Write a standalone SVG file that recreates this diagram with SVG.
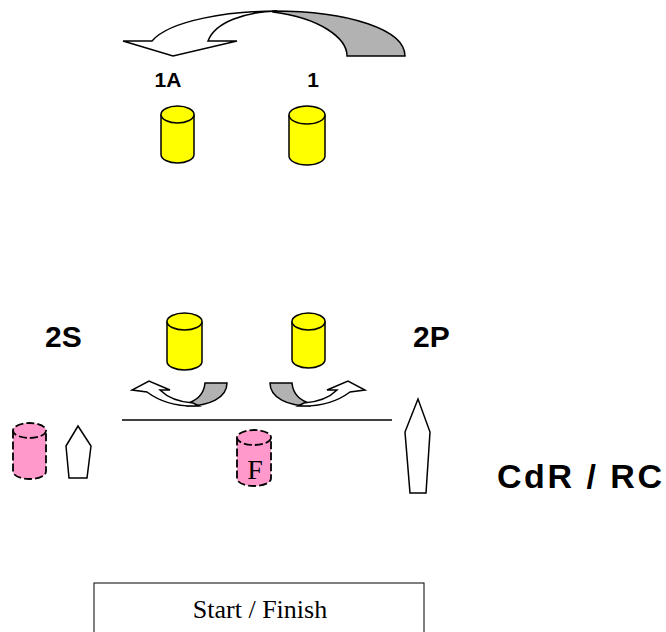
<svg xmlns="http://www.w3.org/2000/svg" width="666" height="632" viewBox="0 0 666 632">
<style>
.lbl{font-family:"Liberation Sans",Arial,sans-serif;font-weight:bold;fill:#000}
.ser{font-family:"Liberation Serif","Times New Roman",serif;fill:#000}
.yc{fill:#ffff00;stroke:#000;stroke-width:1.5}
.pc{fill:#ff99cc;stroke:#000;stroke-width:1.8;stroke-dasharray:8 3}
.sh{fill:#fff;stroke:#000;stroke-width:1.5;stroke-linejoin:miter}
.gr{fill:#b2b2b2;stroke:#000;stroke-width:1.5}
.wa{fill:#fff;stroke:#000;stroke-width:1.5}
</style>
<rect width="666" height="632" fill="#fff"/>
<g id="connectors">
  <g id="arrow-top">
    <path class="gr" d="M273,11 C350,11 405,30 405,56 L347,56 C347,38 320,18 273,12 Z"/>
    <path class="wa" d="M277,11 C230,11 170,20 152,41 L123,41 L173,56 L237,41 L208,41 C215,22 245,12 277,11 Z"/>
  </g>
  <g id="arrow-right">
    <path class="gr" d="M270,383 L292,383 C293,394 300,401 312,404 L310,406 C288,406 270,398 270,383 Z"/>
    <path class="wa" d="M298,406 C320,407 338,401 350,392 L365,390 L348,381 L327,390 L337,390 C330,397 318,402 304,403 Z"/>
  </g>
  <g id="arrow-left" transform="translate(497,0) scale(-1,1)">
    <path class="gr" d="M270,383 L292,383 C293,394 300,401 312,404 L310,406 C288,406 270,398 270,383 Z"/>
    <path class="wa" d="M298,406 C320,407 338,401 350,392 L365,390 L348,381 L327,390 L337,390 C330,397 318,402 304,403 Z"/>
  </g>
  <line id="line" x1="122" y1="420" x2="392" y2="420" stroke="#000" stroke-width="1.5"/>
</g>
<g id="label-1A"><text class="lbl" x="168" y="87" font-size="21" text-anchor="middle">1A</text></g>
<g id="label-1"><text class="lbl" x="313" y="87" font-size="21" text-anchor="middle">1</text></g>
<g id="cyl-1A">
  <path class="yc" d="M161,114.5 L161,154.5 A16.5,8.5 0 0 0 194,154.5 L194,114.5"/>
  <ellipse class="yc" cx="177.5" cy="114.5" rx="16.5" ry="8.5"/>
</g>
<g id="cyl-1">
  <path class="yc" d="M289,115 L289,156 A18,9 0 0 0 325,156 L325,115"/>
  <ellipse class="yc" cx="307" cy="115" rx="18" ry="9"/>
</g>
<g id="label-2S"><text class="lbl" x="45" y="347" font-size="30">2S</text></g>
<g id="label-2P"><text class="lbl" x="413" y="347" font-size="30">2P</text></g>
<g id="cyl-2S">
  <path class="yc" d="M167,321.5 L167,361.5 A17.5,8.5 0 0 0 202,361.5 L202,321.5"/>
  <ellipse class="yc" cx="184.5" cy="321.5" rx="17.5" ry="8.5"/>
</g>
<g id="cyl-2P">
  <path class="yc" d="M292,321.5 L292,359.5 A16.5,8.5 0 0 0 325,359.5 L325,321.5"/>
  <ellipse class="yc" cx="308.5" cy="321.5" rx="16.5" ry="8.5"/>
</g>
<g id="cyl-pink-left">
  <path class="pc" d="M13,430.5 L13,471.5 A16.5,7.5 0 0 0 46,471.5 L46,430.5"/>
  <ellipse class="pc" cx="29.5" cy="430.5" rx="16.5" ry="7.5"/>
</g>
<g id="pent-left"><polygon class="sh" points="78,426 66,446 69,478 87,478 91,446"/></g>
<g id="cyl-F">
  <path class="pc" d="M237,437.5 L237,478.5 A17,7.5 0 0 0 271,478.5 L271,437.5"/>
  <ellipse class="pc" cx="254" cy="437.5" rx="17" ry="7.5"/>
  <text class="ser" x="255" y="479" font-size="28" text-anchor="middle">F</text>
</g>
<g id="pent-right"><polygon class="sh" points="418,399 405,432 410,493 426,493 430,432"/></g>
<g id="label-CdR"><text class="lbl" x="497" y="488" font-size="34" textLength="165" lengthAdjust="spacing">CdR / RC</text></g>
<g id="start-finish">
  <rect x="94" y="583" width="330" height="60" fill="#fff" stroke="#000" stroke-width="1"/>
  <text class="ser" x="260" y="618" font-size="26" text-anchor="middle">Start / Finish</text>
</g>
</svg>
